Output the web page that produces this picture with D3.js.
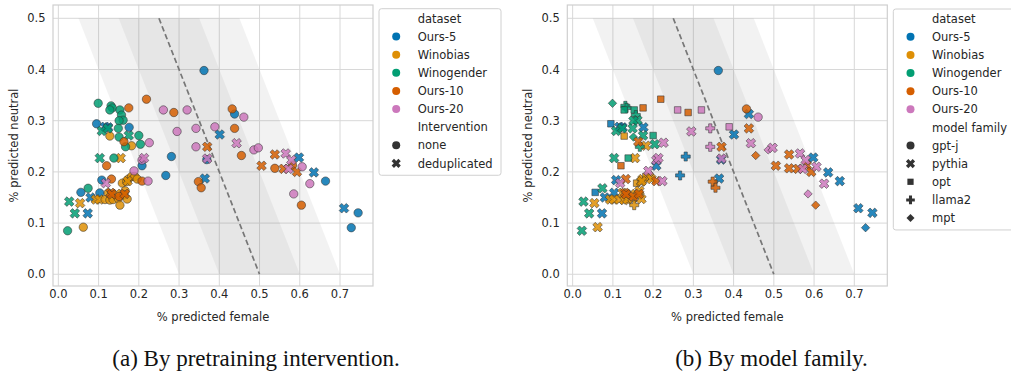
<!DOCTYPE html>
<html>
<head>
<meta charset="utf-8">
<script src="https://cdn.jsdelivr.net/npm/d3@7"></script>
<style>
html,body{margin:0;padding:0;background:#fff;}
svg{display:block;}
text{font-family:"DejaVu Sans",sans-serif;}
</style>
</head>
<body>
<svg id="chart" width="1011" height="373"></svg>
<script>
// ---------------- data ----------------
const datasets = ["Ours-5", "Winobias", "Winogender", "Ours-10", "Ours-20"];
const datasetColors = ["#0173b2", "#de8f05", "#029e73", "#d55e00", "#cc78bc"];
const interventions = ["none", "deduplicated"];
const families = ["gpt-j", "pythia", "opt", "llama2", "mpt"];
const xTicks = [0, 0.1, 0.2, 0.3, 0.4, 0.5, 0.6, 0.7];
const yTicks = [0, 0.1, 0.2, 0.3, 0.4, 0.5];
const xLabel = "% predicted female";
const yLabel = "% predicted neutral";
const captions = ["(a) By pretraining intervention.", "(b) By model family."];

// [% predicted female, % predicted neutral, intervention, model family]
const ours5 = [
  [0.362,0.398,"none","gpt-j"],[0.438,0.313,"none","pythia"],[0.095,0.294,"none","opt"],
  [0.116,0.288,"deduplicated","pythia"],[0.124,0.287,"deduplicated","pythia"],[0.176,0.287,"none","pythia"],
  [0.208,0.212,"none","pythia"],[0.108,0.184,"none","pythia"],[0.056,0.160,"none","opt"],
  [0.103,0.159,"none","pythia"],[0.080,0.150,"deduplicated","pythia"],[0.073,0.119,"deduplicated","pythia"],
  [0.401,0.273,"deduplicated","pythia"],[0.281,0.230,"none","llama2"],[0.267,0.193,"none","llama2"],
  [0.364,0.187,"deduplicated","pythia"],[0.369,0.224,"none","pythia"],[0.598,0.228,"deduplicated","pythia"],
  [0.635,0.199,"deduplicated","pythia"],[0.664,0.182,"none","pythia"],[0.710,0.129,"deduplicated","pythia"],
  [0.745,0.120,"none","pythia"],[0.728,0.091,"none","mpt"]
];
const winobias = [
  [0.128,0.270,"none","opt"],[0.182,0.251,"none","pythia"],[0.155,0.227,"deduplicated","pythia"],
  [0.159,0.178,"none","opt"],[0.170,0.181,"none","pythia"],[0.174,0.186,"none","pythia"],
  [0.182,0.191,"none","opt"],[0.190,0.191,"none","pythia"],[0.196,0.186,"none","pythia"],
  [0.172,0.182,"deduplicated","pythia"],[0.054,0.139,"deduplicated","pythia"],[0.093,0.146,"deduplicated","pythia"],
  [0.102,0.146,"deduplicated","pythia"],[0.116,0.146,"none","pythia"],[0.128,0.145,"none","pythia"],
  [0.136,0.146,"none","pythia"],[0.149,0.148,"none","pythia"],[0.124,0.159,"none","pythia"],
  [0.145,0.157,"deduplicated","pythia"],[0.166,0.163,"none","pythia"],[0.163,0.155,"none","pythia"],
  [0.171,0.147,"none","pythia"],[0.153,0.135,"none","llama2"],[0.062,0.092,"none","pythia"]
];
const winogender = [
  [0.099,0.334,"none","mpt"],[0.131,0.329,"none","llama2"],[0.134,0.325,"none","llama2"],
  [0.128,0.321,"none","opt"],[0.153,0.321,"none","opt"],[0.157,0.311,"none","llama2"],
  [0.161,0.301,"none","pythia"],[0.151,0.300,"none","pythia"],[0.108,0.280,"deduplicated","pythia"],
  [0.123,0.285,"deduplicated","pythia"],[0.149,0.285,"none","pythia"],[0.151,0.268,"none","mpt"],
  [0.175,0.271,"deduplicated","pythia"],[0.200,0.271,"none","opt"],[0.167,0.249,"none","llama2"],
  [0.204,0.254,"none","pythia"],[0.103,0.227,"deduplicated","pythia"],[0.138,0.227,"none","opt"],
  [0.074,0.168,"none","pythia"],[0.027,0.142,"deduplicated","pythia"],[0.041,0.119,"deduplicated","pythia"],
  [0.023,0.085,"none","pythia"]
];
const ours10 = [
  [0.175,0.325,"none","opt"],[0.219,0.342,"none","opt"],[0.163,0.259,"none","pythia"],
  [0.120,0.212,"none","opt"],[0.132,0.186,"none","pythia"],[0.208,0.182,"none","pythia"],
  [0.130,0.159,"deduplicated","pythia"],[0.133,0.156,"deduplicated","pythia"],[0.151,0.152,"none","pythia"],
  [0.165,0.157,"deduplicated","pythia"],[0.287,0.316,"none","opt"],[0.432,0.323,"none","gpt-j"],
  [0.438,0.285,"none","pythia"],[0.370,0.249,"deduplicated","pythia"],[0.455,0.232,"none","mpt"],
  [0.505,0.212,"deduplicated","pythia"],[0.348,0.181,"none","llama2"],[0.355,0.169,"none","llama2"],
  [0.538,0.234,"deduplicated","pythia"],[0.538,0.207,"none","pythia"],[0.560,0.206,"deduplicated","pythia"],
  [0.582,0.213,"none","pythia"],[0.593,0.200,"deduplicated","pythia"],[0.604,0.135,"none","mpt"]
];
const ours20 = [
  [0.261,0.321,"none","opt"],[0.320,0.321,"none","opt"],[0.461,0.307,"none","gpt-j"],
  [0.295,0.279,"none","pythia"],[0.342,0.285,"none","llama2"],[0.389,0.288,"none","opt"],
  [0.342,0.249,"none","llama2"],[0.443,0.256,"deduplicated","pythia"],[0.486,0.243,"none","mpt"],
  [0.497,0.247,"none","pythia"],[0.370,0.226,"deduplicated","pythia"],[0.226,0.257,"none","pythia"],
  [0.208,0.223,"none","pythia"],[0.213,0.227,"deduplicated","pythia"],[0.118,0.178,"deduplicated","pythia"],
  [0.188,0.202,"none","pythia"],[0.223,0.182,"none","pythia"],[0.565,0.236,"deduplicated","pythia"],
  [0.579,0.223,"deduplicated","pythia"],[0.572,0.206,"deduplicated","pythia"],[0.606,0.210,"none","pythia"],
  [0.625,0.177,"none","pythia"],[0.585,0.157,"none","mpt"]
];
const seriesByDataset = [ours5, winobias, winogender, ours10, ours20];

// parity band half-widths around female = (1 - neutral) / 2
const bandWidths = [0.2, 0.1];

// ---------------- drawing ----------------
const svg = d3.select("#chart");
const color = d3.scaleOrdinal().domain(datasets).range(datasetColors);

const points = [];
datasets.forEach((ds, i) => {
  seriesByDataset[i].forEach(p => points.push({female: p[0], neutral: p[1], intervention: p[2], family: p[3], dataset: ds}));
});

function plusPts(a, b) {
  return [[b,a],[b,b],[a,b],[a,-b],[b,-b],[b,-a],[-b,-a],[-b,-b],[-a,-b],[-a,b],[-b,b],[-b,a]];
}
function polyPath(pts) { return "M" + pts.map(p => p[0].toFixed(2) + "," + p[1].toFixed(2)).join("L") + "Z"; }
function rot45(pts) { const c = Math.SQRT1_2; return pts.map(([x, y]) => [c*(x - y), c*(x + y)]); }
function markerPath(shape, s) {
  switch (shape) {
    case "circle": return `M${s},0A${s},${s} 0 1,1 ${-s},0A${s},${s} 0 1,1 ${s},0Z`;
    case "x": return polyPath(rot45(plusPts(s*1.2, s*0.42)));
    case "square": { const h = s*0.78; return polyPath([[-h,-h],[h,-h],[h,h],[-h,h]]); }
    case "plus": return polyPath(plusPts(s*1.08, s*0.38));
    case "diamond": { const h = s*1.0; return polyPath([[0,-h],[h,0],[0,h],[-h,0]]); }
  }
}
const interventionShape = {"none": "circle", "deduplicated": "x"};
const familyShape = {"gpt-j": "circle", "pythia": "x", "opt": "square", "llama2": "plus", "mpt": "diamond"};

const frameH = [5, 286];
const panels = [
  {left: 53, right: 373, shapeOf: d => interventionShape[d.intervention], caption: captions[0], capX: 256,
   legend: {x: 379, y: 8.7, w: 122, title2: "Intervention", items2: interventions, shapes2: interventions.map(k => interventionShape[k])}},
  {left: 567.3, right: 887.3, shapeOf: d => familyShape[d.family], caption: captions[1], capX: 771.5,
   legend: {x: 893.3, y: 9, w: 140, title2: "model family", items2: families, shapes2: families.map(k => familyShape[k])}}
];

panels.forEach(P => {
  const x = d3.scaleLinear().domain([-0.0133, 0.782]).range([P.left, P.right]);
  const y = d3.scaleLinear().domain([-0.0229, 0.526]).range([frameH[1], frameH[0]]);
  const g = svg.append("g");

  g.selectAll(".vg").data(xTicks).join("line")
    .attr("x1", d => x(d)).attr("x2", d => x(d)).attr("y1", frameH[0]).attr("y2", frameH[1])
    .attr("stroke", "#d8d8d8").attr("stroke-width", 1);
  g.selectAll(".hg").data(yTicks).join("line")
    .attr("y1", d => y(d)).attr("y2", d => y(d)).attr("x1", P.left).attr("x2", P.right)
    .attr("stroke", "#d8d8d8").attr("stroke-width", 1);

  bandWidths.forEach(w => {
    const poly = [[0.25 - w, 0.5], [0.25 + w, 0.5], [0.5 + w, 0], [0.5 - w, 0]];
    g.append("path").attr("d", d3.line().x(p => x(p[0])).y(p => y(p[1]))(poly) + "Z")
      .attr("fill", "#808080").attr("fill-opacity", 0.1);
  });
  g.append("line").attr("x1", x(0.25)).attr("y1", y(0.5)).attr("x2", x(0.5)).attr("y2", y(0))
    .attr("stroke", "#777").attr("stroke-width", 1.7).attr("stroke-dasharray", "5.5,3");

  g.append("rect").attr("x", P.left).attr("y", frameH[0]).attr("width", P.right - P.left)
    .attr("height", frameH[1] - frameH[0]).attr("fill", "none").attr("stroke", "#cfcfcf").attr("stroke-width", 1.2);

  g.selectAll(".pt").data(points).join("path")
    .attr("d", d => markerPath(P.shapeOf(d), 4.2))
    .attr("transform", d => `translate(${x(d.female)},${y(d.neutral)})`)
    .attr("fill", d => color(d.dataset)).attr("fill-opacity", 0.85)
    .attr("stroke", "#333").attr("stroke-width", 0.6).attr("stroke-opacity", 0.9);

  g.selectAll(".xt").data(xTicks).join("text")
    .attr("x", d => x(d)).attr("y", 298.3).attr("text-anchor", "middle")
    .attr("font-size", 11.5).attr("fill", "#262626").text(d => d3.format(".1f")(d));
  g.selectAll(".yt").data(yTicks).join("text")
    .attr("x", P.left - 7.5).attr("y", d => y(d)).attr("dy", "0.36em").attr("text-anchor", "end")
    .attr("font-size", 11.5).attr("fill", "#262626").text(d => d3.format(".1f")(d));
  g.append("text").attr("x", (P.left + P.right) / 2).attr("y", 320.5).attr("text-anchor", "middle")
    .attr("font-size", 11.5).attr("fill", "#262626").text(xLabel);
  g.append("text").attr("transform", `translate(${P.left - 35.5},${(frameH[0] + frameH[1]) / 2}) rotate(-90)`)
    .attr("text-anchor", "middle").attr("font-size", 11.5).attr("fill", "#262626").text(yLabel);

  const L = P.legend;
  const rows = [{t: "dataset", title: true}]
    .concat(datasets.map(d => ({t: d, shape: "circle", col: color(d)})))
    .concat([{t: L.title2, title: true}])
    .concat(L.items2.map((d, i) => ({t: d, shape: L.shapes2[i], col: "#333"})));
  const rowH = 18.12, r0 = L.y + 9.7;
  g.append("rect").attr("x", L.x).attr("y", L.y).attr("width", L.w)
    .attr("height", rows.length * rowH + 3.5).attr("rx", 2.5)
    .attr("fill", "#fff").attr("fill-opacity", 0.8).attr("stroke", "#d0d0d0").attr("stroke-width", 1);
  rows.forEach((rw, i) => {
    const cy = r0 + i * rowH;
    if (!rw.title) {
      g.append("path").attr("d", markerPath(rw.shape, 4.0))
        .attr("transform", `translate(${L.x + 17.2},${cy})`).attr("fill", rw.col);
    }
    g.append("text").attr("x", L.x + 38.7).attr("y", cy).attr("dy", "0.36em")
      .attr("font-size", 11.5).attr("fill", "#262626").text(rw.t);
  });

  svg.append("text").attr("x", P.capX).attr("y", 366).attr("text-anchor", "middle")
    .style("font-family", '"Liberation Serif", serif').attr("font-size", 23).attr("fill", "#111")
    .text(P.caption);
});
</script>
</body>
</html>
